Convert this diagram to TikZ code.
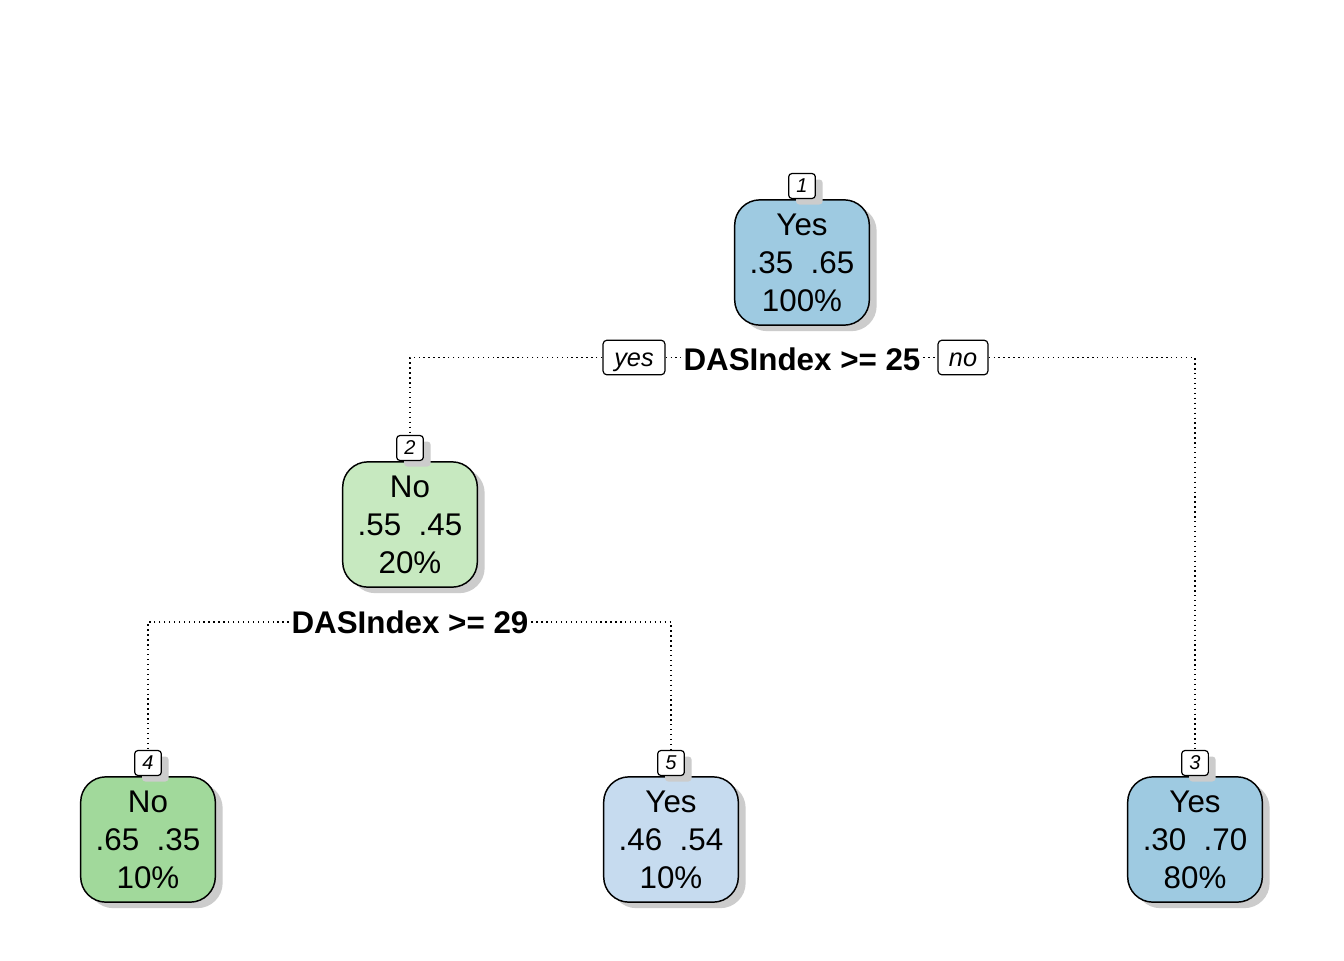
\documentclass[tikz,border=0pt]{standalone}
\usepackage{fontspec}
\setmainfont{Liberation Sans}
\usetikzlibrary{shadows}
\definecolor{blueA}{HTML}{9ECAE1}
\definecolor{blueB}{HTML}{C6DBEF}
\definecolor{greenA}{HTML}{A1D99B}
\definecolor{greenB}{HTML}{C7E9C0}
\begin{document}
\begin{tikzpicture}[x=0.75pt,y=-0.75pt,
  shad/.style={drop shadow={shadow xshift=5.5pt, shadow yshift=-4.5pt, fill=black!20, opacity=1}},
  treebox/.style={draw, line width=1.1pt, rounded corners=19pt, minimum width=101pt, minimum height=94pt,
    align=center, inner sep=0pt, text depth=-3pt, font=\fontsize{23.5}{28.5}\selectfont, shad},
  numbox/.style={draw, fill=white, line width=0.9pt, rounded corners=2.5pt, minimum width=20pt,
    minimum height=18.75pt, inner sep=0pt, font=\fontsize{15}{15}\itshape\selectfont, shad},
  ynbox/.style={draw, fill=white, line width=0.9pt, rounded corners=3pt, minimum height=26pt,
    inner sep=0pt, text height=16pt, text depth=2.5pt, font=\fontsize{19}{20}\itshape\selectfont},
  splitlab/.style={inner xsep=2pt, inner ysep=0pt, font=\fontsize{23.5}{24}\bfseries\selectfont},
  dotline/.style={line width=1pt, dash pattern=on 1pt off 2.7pt}
]
\useasboundingbox[fill=white] (0,0) rectangle (1344,960);

% nodes
\node[treebox, fill=blueA] (n1) at (802,262.5) {Yes\\.35\ \ .65\\100\%};
\node[numbox, anchor=south] (n1num) at (n1.north) {1};

\node[treebox, fill=greenB] (n2) at (410,524.5) {No\\.55\ \ .45\\20\%};
\node[numbox, anchor=south] (n2num) at (n2.north) {2};

\node[treebox, fill=greenA] (n4) at (148,839.5) {No\\.65\ \ .35\\10\%};
\node[numbox, anchor=south] (n4num) at (n4.north) {4};

\node[treebox, fill=blueB] (n5) at (671,839.5) {Yes\\.46\ \ .54\\10\%};
\node[numbox, anchor=south] (n5num) at (n5.north) {5};

\node[treebox, fill=blueA] (n3) at (1195,839.5) {Yes\\.30\ \ .70\\80\%};
\node[numbox, anchor=south] (n3num) at (n3.north) {3};

% split labels
\node[splitlab] (s1) at (802,359) {DASIndex >= 25};
\node[ynbox, minimum width=46.5pt] (yes) at (634,357.5) {yes};
\node[ynbox, minimum width=37.5pt] (no) at (963,357.5) {no};
\node[splitlab] (s2) at (410,622) {DASIndex >= 29};

% connectors
\draw[dotline] (yes.west) -| (n2num.north);
\draw[dotline] (yes.east) -- (yes.east -| s1.west);
\draw[dotline] (no.west -| s1.east) -- (no.west);
\draw[dotline] (no.east) -| (n3num.north);
\draw[dotline] (s2.west) -| (n4num.north);
\draw[dotline] (s2.east) -| (n5num.north);
\end{tikzpicture}
\end{document}
